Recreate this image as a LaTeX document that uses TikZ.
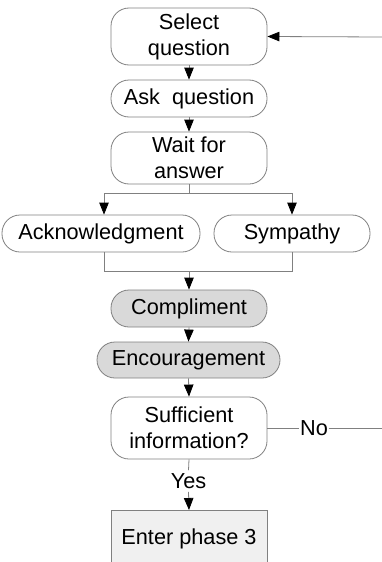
\documentclass[tikz,border=0pt]{standalone}
\usepackage{fontspec}
\setmainfont{Liberation Sans}
\usetikzlibrary{arrows.meta}
\definecolor{linegray}{HTML}{808080}
\definecolor{boxgray}{HTML}{D9D9D9}
\definecolor{lightbox}{HTML}{F0F0F0}
\begin{document}
\begin{tikzpicture}[x=1pt,y=-1pt,
  font=\fontsize{21.7}{26}\selectfont,
  rbox/.style={draw=linegray, line width=0.8pt, rounded corners=18pt, minimum width=156pt, align=center, inner sep=0pt},
  conn/.style={draw=linegray, line width=0.8pt},
  arr/.style={conn, -{Triangle[length=12pt,width=9.5pt,color=black]}}
]
\useasboundingbox (0,0) rectangle (382,562);
\node[rbox, minimum height=57pt] (sel) at (189,36.5) {Select\\question};
\node[rbox, minimum height=37pt] (ask) at (189,98.5) {Ask\ \ question};
\node[rbox, minimum height=52pt] (wait) at (189,158) {Wait for\\answer};
\node[rbox, minimum height=37pt, minimum width=198pt] (ack) at (101,233.5) {Acknowledgment};
\node[rbox, minimum height=37pt] (sym) at (292,233.5) {Sympathy};
\node[rbox, minimum height=37pt, fill=boxgray] (comp) at (189,308.5) {Compliment};
\node[rbox, minimum height=36pt, minimum width=183pt, fill=boxgray] (enc) at (188.5,360) {Encouragement};
\node[rbox, minimum height=62pt] (suf) at (189,428) {Sufficient\\information?};
\node[draw=linegray, line width=0.8pt, fill=lightbox, minimum width=156pt, minimum height=56pt, inner sep=0pt, anchor=north] (ent) at (189,510) {Enter phase 3};
\node[inner sep=0.5pt] (no) at (314,428) {No};
\node[inner sep=3pt] (yes) at (188.5,481) {Yes};
\coordinate (inr) at (382,37);
\coordinate (outr) at (382,428);
\coordinate (split) at (189,193);
\coordinate (merge) at (189,271);
\draw[arr] (inr) -- (sel.east);
\draw[arr] (sel.south) -- (ask.north);
\draw[arr] (ask.south) -- (wait.north);
\draw[conn] (wait.south) -- (split);
\draw[arr] (split) -| ([xshift=3pt]ack.north);
\draw[arr] (split) -| (sym.north);
\draw[conn] ([xshift=3pt]ack.south) |- (merge);
\draw[conn] (sym.south) |- (merge);
\draw[arr] (merge) -- (comp.north);
\draw[arr] (comp.south) -- (enc.north);
\draw[arr] (enc.south) -- (suf.north);
\draw[conn] (suf.east) -- (no.west);
\draw[conn] (no.east) -- (outr);
\draw[conn] (suf.south) -- (yes.north);
\draw[arr] (yes.south) -- (ent.north);
\end{tikzpicture}
\end{document}
